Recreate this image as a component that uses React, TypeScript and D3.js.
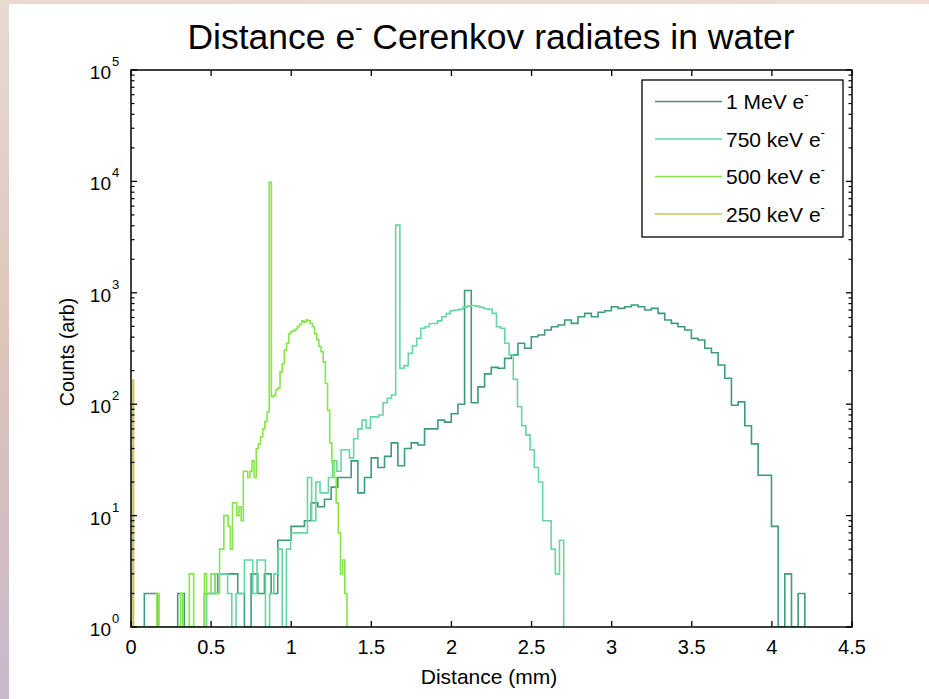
import React from 'react';
import * as d3 from 'd3';

// ---------- data ----------
const seriesLabels = ['1 MeV e', '750 keV e', '500 keV e', '250 keV e'];
const binWidthsMm = [0.04164, 0.02622, 0.01348, 0.004];

const counts1MeV = [
  0, 0, 2, 2, 0, 0, 0, 2, 0, 0,
  0, 2, 2, 3, 3, 3, 2, 0, 3, 2,
  3, 2, 6, 6, 8, 8, 9, 13, 12, 14,
  18, 22, 22, 31, 16, 22, 33, 27, 34, 45,
  28, 40, 45, 43, 60, 60, 72, 69, 82, 100,
  1050, 103, 143, 187, 214, 210, 258, 277, 352, 318,
  403, 418, 464, 496, 514, 570, 532, 610, 654, 610,
  668, 691, 750, 725, 750, 777, 750, 701, 725, 654,
  570, 532, 496, 464, 390, 377, 318, 290, 225, 171,
  98, 105, 64, 44, 23, 23, 8, 0, 3, 0,
  2,
];

const counts750keV = [
  0, 0, 0, 0, 0, 0, 0, 0, 0, 0,
  0, 0, 0, 0, 0, 0, 0, 0, 2, 2,
  3, 3, 3, 2, 0, 2, 2, 4, 4, 2,
  4, 4, 0, 2, 3, 5, 0, 5, 7, 7,
  7, 7, 22, 9, 20, 16, 16, 22, 31, 25,
  39, 39, 33, 49, 60, 72, 61, 77, 77, 80,
  103, 113, 121, 4050, 210, 222, 286, 333, 390, 480,
  495, 530, 530, 560, 610, 650, 690, 700, 710, 740,
  760, 770, 760, 740, 720, 710, 654, 496, 480, 353,
  277, 167, 95, 64, 53, 39, 27, 20, 9, 9,
  5, 3, 6,
];

const counts500keV = [
  0, 0, 0, 0, 0, 0, 0, 0, 0, 0,
  0, 0, 2, 0, 0, 0, 0, 0, 0, 0,
  0, 0, 0, 2, 0, 0, 0, 3, 3, 0,
  0, 0, 0, 0, 3, 2, 2, 3, 3, 2,
  2, 5, 5, 10, 10, 8, 5, 13, 13, 10,
  12, 9, 25, 25, 22, 25, 31, 22, 40, 44,
  51, 60, 70, 85, 9800, 117, 120, 135, 140, 195,
  230, 305, 353, 430, 450, 458, 470, 496, 520, 560,
  545, 570, 560, 530, 496, 430, 380, 330, 296, 240,
  154, 88, 45, 30, 22, 13, 7, 3, 4, 2,
];

const counts250keV = [0, 0, 0, 165];

const allCounts = [counts1MeV, counts750keV, counts500keV, counts250keV];
const seriesColors = ['#3f9c7b', '#66d6a2', '#86e44c', '#c9c35c'];

const xTicks = [0, 0.5, 1, 1.5, 2, 2.5, 3, 3.5, 4, 4.5];
const xTickLabels = ['0', '0.5', '1', '1.5', '2', '2.5', '3', '3.5', '4', '4.5'];
const yDecades = [0, 1, 2, 3, 4, 5];

const titleText = 'Distance e';
const titleRest = ' Cerenkov radiates in water';
const xLabel = 'Distance (mm)';
const yLabel = 'Counts (arb)';

// ---------- layout ----------
const W = 929;
const H = 699;
const plot = { left: 131, right: 852, top: 70, bottom: 627 };
const FONT = "'Liberation Sans', Arial, Helvetica, sans-serif";

export default function App() {
  const x = d3.scaleLinear().domain([0, 4.5]).range([plot.left, plot.right]);
  const y = d3.scaleLog().domain([1, 1e5]).range([plot.bottom, plot.top]);

  const line = d3
    .line<[number, number]>()
    .x((d) => x(d[0]))
    .y((d) => y(Math.max(1, d[1])))
    .curve(d3.curveStepAfter);

  const paths = allCounts.map((counts, si) => {
    const w = binWidthsMm[si];
    const pts: [number, number][] = [[0, 1]];
    counts.forEach((c, i) => pts.push([i * w, c]));
    pts.push([counts.length * w, 1]);
    return line(pts) as string;
  });

  const minorTicks: number[] = [];
  yDecades.slice(0, -1).forEach((k) => {
    for (let j = 2; j <= 9; j++) minorTicks.push(j * Math.pow(10, k));
  });

  const majorLen = 6;
  const minorLen = 3.5;

  const legend = { x: 642, y: 80, w: 201, h: 157 };

  return (
    <svg
      width={W}
      height={H}
      style={{ position: 'fixed', left: 0, top: 0, background: '#fff' }}
      fontFamily={FONT}
    >
      <defs>
        <linearGradient id="leftBand" x1="0" y1="0" x2="0" y2="1">
          <stop offset="0" stopColor="#e8dad0" />
          <stop offset="0.5" stopColor="#dcc4b8" />
          <stop offset="1" stopColor="#c8b8cc" />
        </linearGradient>
        <linearGradient id="topBand" x1="0" y1="0" x2="1" y2="0">
          <stop offset="0" stopColor="#e8dad0" />
          <stop offset="1" stopColor="#f0dcd4" />
        </linearGradient>
        <clipPath id="plotClip">
          <rect x={plot.left} y={plot.top} width={plot.right - plot.left} height={plot.bottom - plot.top} />
        </clipPath>
      </defs>
      <rect x={0} y={0} width={W} height={H} fill="#ffffff" />
      <rect x={0} y={0} width={W} height={4} fill="url(#topBand)" />
      <rect x={0} y={0} width={9} height={H} fill="url(#leftBand)" />

      {/* title */}
      <text x={491} y={49} textAnchor="middle" fontSize={35.5} fill="#000">
        {titleText}
        <tspan fontSize={22} dy={-14}>-</tspan>
        <tspan dy={14}>{titleRest}</tspan>
      </text>

      {/* series */}
      <g clipPath="url(#plotClip)">
        {paths.map((d, i) => (
          <path key={i} d={d} fill="none" stroke={seriesColors[i]} strokeWidth={1.6} />
        ))}
      </g>

      {/* axes box */}
      <rect
        x={plot.left}
        y={plot.top}
        width={plot.right - plot.left}
        height={plot.bottom - plot.top}
        fill="none"
        stroke="#000"
        strokeWidth={1.5}
      />

      {/* x ticks */}
      {xTicks.map((t, i) => (
        <g key={'xt' + i}>
          <line x1={x(t)} x2={x(t)} y1={plot.bottom} y2={plot.bottom - majorLen} stroke="#000" strokeWidth={1.3} />
          <line x1={x(t)} x2={x(t)} y1={plot.top} y2={plot.top + majorLen} stroke="#000" strokeWidth={1.3} />
          <text x={x(t)} y={654} textAnchor="middle" fontSize={20} fill="#000">
            {xTickLabels[i]}
          </text>
        </g>
      ))}

      {/* y ticks */}
      {yDecades.map((k) => {
        const v = Math.pow(10, k);
        const yy = y(v);
        return (
          <g key={'yt' + k}>
            <line x1={plot.left} x2={plot.left + majorLen} y1={yy} y2={yy} stroke="#000" strokeWidth={1.3} />
            <line x1={plot.right} x2={plot.right - majorLen} y1={yy} y2={yy} stroke="#000" strokeWidth={1.3} />
            <text x={111} y={yy + 9} textAnchor="end" fontSize={19} fill="#000">
              10
            </text>
            <text x={112} y={yy - 4} textAnchor="start" fontSize={13} fill="#000">
              {String(k)}
            </text>
          </g>
        );
      })}
      {minorTicks.map((v, i) => (
        <g key={'ym' + i}>
          <line x1={plot.left} x2={plot.left + minorLen} y1={y(v)} y2={y(v)} stroke="#000" strokeWidth={1.2} />
          <line x1={plot.right} x2={plot.right - minorLen} y1={y(v)} y2={y(v)} stroke="#000" strokeWidth={1.2} />
        </g>
      ))}

      {/* axis labels */}
      <text x={489} y={684} textAnchor="middle" fontSize={21} fill="#000">
        {xLabel}
      </text>
      <text
        transform={`translate(74, 352) rotate(-90)`}
        textAnchor="middle"
        fontSize={19.5}
        fill="#000"
      >
        {yLabel}
      </text>

      {/* legend */}
      <rect x={legend.x} y={legend.y} width={legend.w} height={legend.h} fill="#fff" stroke="#000" strokeWidth={1.3} />
      {seriesLabels.map((lab, i) => {
        const ly = 101.5 + i * 37.5;
        return (
          <g key={'lg' + i}>
            <line x1={655} x2={722} y1={ly} y2={ly} stroke={seriesColors[i]} strokeWidth={1.6} />
            <text x={726} y={ly + 7.5} fontSize={21} fill="#000">
              {lab}
              <tspan fontSize={13} dy={-10}>-</tspan>
            </text>
          </g>
        );
      })}
    </svg>
  );
}
